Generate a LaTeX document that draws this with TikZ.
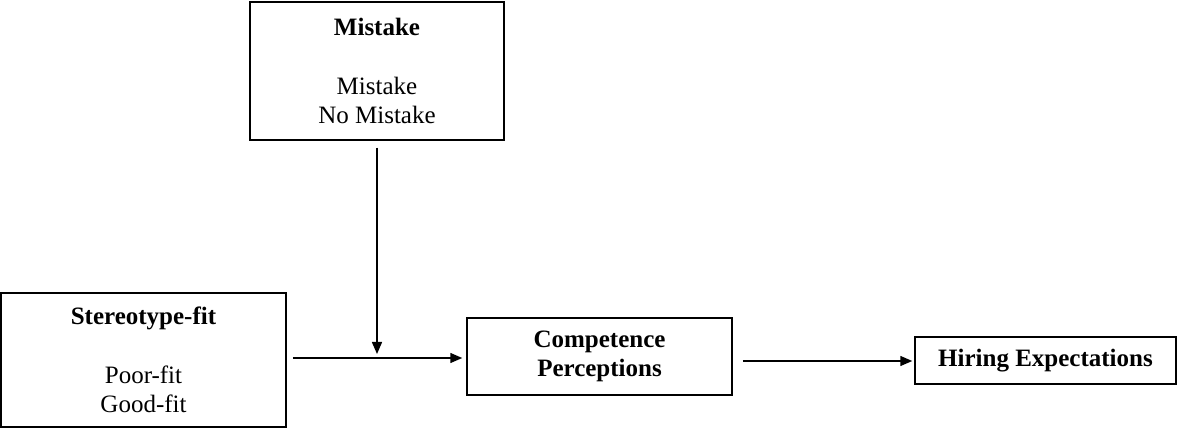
\documentclass[tikz,border=0pt]{standalone}
\usepackage{fontspec}
\setmainfont{Liberation Serif}
\usetikzlibrary{arrows.meta}
\begin{document}
\begin{tikzpicture}[x=1pt,y=1pt,
  box/.style={draw, line width=1.5pt, rectangle, align=center, inner sep=0pt,
    font=\fontsize{25}{29.5}\selectfont},
  arr/.style={line width=1.5pt, -{Triangle[length=12pt,width=10pt]}}]
\useasboundingbox (0,0) rectangle (1177,428);
\node[box, minimum width=254, minimum height=138] (mistake) at (377,357)
  {\textbf{Mistake}\\[29.5pt] Mistake\\ No Mistake};
\node[box, minimum width=285, minimum height=134] (stereo) at (143.5,68)
  {\textbf{Stereotype-fit}\\[29.5pt] Poor-fit\\ Good-fit};
\node[box, minimum width=265, minimum height=77] (comp) at (599.5,71.5)
  {\textbf{Competence}\\ \textbf{Perceptions}};
\node[box, minimum width=261, minimum height=47] (hire) at (1045.5,67.5)
  {\textbf{Hiring Expectations}};
\coordinate (junc) at (377,74);
\draw[arr] ([yshift=-7pt]mistake.south) -- (junc);
\draw[arr] ([xshift=6pt]stereo.east |- 0,70) -- ([xshift=-4pt]comp.west |- 0,70);
\draw[arr] ([xshift=10pt]comp.east |- 0,67) -- ([xshift=-2pt]hire.west |- 0,67);
\end{tikzpicture}
\end{document}
